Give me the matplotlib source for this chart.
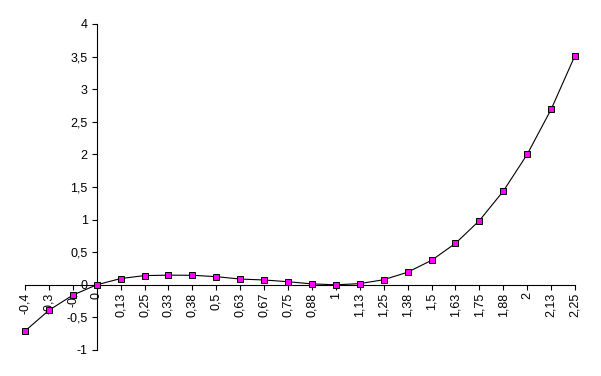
import matplotlib
matplotlib.use("Agg")
import matplotlib.pyplot as plt

# category labels as printed under the axis (comma decimals, Excel style)
x_labels = ["-0,4", "-0,3", "-0,", "0", "0,13", "0,25", "0,33", "0,38", "0,5",
            "0,63", "0,67", "0,75", "0,88", "1", "1,13", "1,25", "1,38", "1,5",
            "1,63", "1,75", "1,88", "2", "2,13", "2,25"]
y_values = [-0.709, -0.391, -0.158, 0.0, 0.096, 0.141, 0.148, 0.146, 0.125,
            0.088, 0.074, 0.047, 0.014, 0.0, 0.018, 0.078, 0.193, 0.375,
            0.635, 0.984, 1.436, 2.0, 2.689, 3.516]
y_ticks = [-1, -0.5, 0, 0.5, 1, 1.5, 2, 2.5, 3, 3.5, 4]

plt.rcParams["font.family"] = ["Liberation Sans", "DejaVu Sans"]

fig = plt.figure(figsize=(6.01, 3.76), dpi=100, facecolor="white")
W, H = 601, 376
ax = fig.add_axes([25 / W, (H - 350) / H, (575 - 25) / W, (350 - 24) / H])

xs = list(range(len(x_labels)))
ax.plot(xs, y_values, color="black", linewidth=0.8, clip_on=False, zorder=3)
ax.plot(xs, y_values, linestyle="none", marker="s", markersize=5,
        markerfacecolor="#ff00ff", markeredgecolor="black",
        markeredgewidth=0.7, clip_on=False, zorder=4)

ax.set_xlim(0, len(x_labels) - 1)
ax.set_ylim(-1, 4)

# axes cross at category "0" and value 0
ax.spines["left"].set_position(("data", 3))
ax.spines["bottom"].set_position(("data", 0))
for s in ("top", "right"):
    ax.spines[s].set_visible(False)
for s in ("left", "bottom"):
    ax.spines[s].set_linewidth(0.8)

ax.set_xticks(xs)
ax.set_xticklabels(x_labels, rotation=90, fontsize=9)
ax.set_yticks(y_ticks)
ax.set_yticklabels([f"{v:g}".replace(".", ",") for v in y_ticks], fontsize=9)
ax.tick_params(axis="x", direction="out", length=3.5, width=0.8, pad=2)
ax.tick_params(axis="y", direction="out", length=3.5, width=0.8, pad=3)
ax.patch.set_visible(False)

fig.savefig("out.png", dpi=100, facecolor="white")
